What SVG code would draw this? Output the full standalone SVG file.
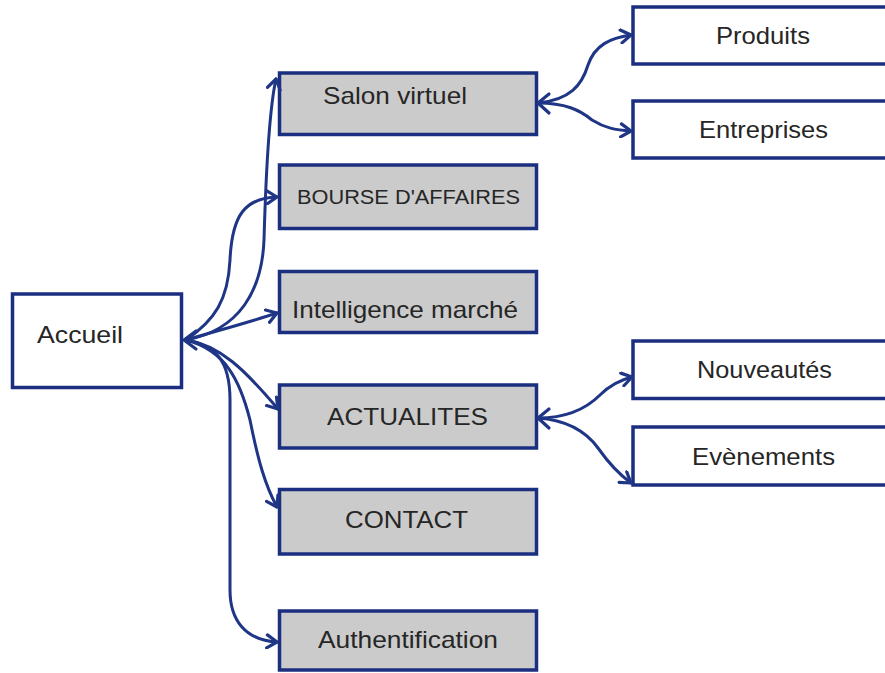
<svg xmlns="http://www.w3.org/2000/svg" width="885" height="673" viewBox="0 0 885 673">
  <style>
    .box { stroke: #1b2f80; stroke-width: 3.5; }
    .grey { fill: #cbcbcb; }
    .white { fill: #ffffff; }
    .lbl { font-family: "Liberation Sans", Arial, sans-serif; font-size: 24px; fill: #262626; }
    .small { font-size: 20px; }
    .link { fill: none; stroke: #1f3586; stroke-width: 3; stroke-linecap: round; }
    .head { fill: none; stroke: #1f3586; stroke-width: 3.2; stroke-linecap: round; stroke-linejoin: round; }
  </style>
  <defs>
    <marker id="arrow" markerUnits="userSpaceOnUse" markerWidth="16" markerHeight="16" refX="12" refY="8" orient="auto">
      <path d="M2,1.5 L12,8 L2,14.5" fill="none" stroke="#1f3586" stroke-width="3.2" stroke-linejoin="round" stroke-linecap="round"/>
    </marker>
  </defs>

  <rect width="885" height="673" fill="#ffffff"/>

  <g id="accueil">
    <rect class="box white" x="12.5" y="294" width="169" height="93.5"/>
    <text class="lbl" x="37" y="343" textLength="86" lengthAdjust="spacingAndGlyphs">Accueil</text>
  </g>

  <g id="salon-virtuel">
    <rect class="box grey" x="279.5" y="73" width="257" height="61.5"/>
    <text class="lbl" x="323" y="104" textLength="144" lengthAdjust="spacingAndGlyphs">Salon virtuel</text>
  </g>

  <g id="bourse-affaires">
    <rect class="box grey" x="279.5" y="165" width="257" height="63.5"/>
    <text class="lbl small" x="297" y="204" textLength="223" lengthAdjust="spacingAndGlyphs">BOURSE D'AFFAIRES</text>
  </g>

  <g id="intelligence-marche">
    <rect class="box grey" x="279.5" y="271.5" width="257" height="61"/>
    <text class="lbl" x="292" y="318" textLength="226" lengthAdjust="spacingAndGlyphs">Intelligence marché</text>
  </g>

  <g id="actualites">
    <rect class="box grey" x="279.5" y="385" width="257" height="63"/>
    <text class="lbl" x="327" y="425" textLength="161" lengthAdjust="spacingAndGlyphs">ACTUALITES</text>
  </g>

  <g id="contact">
    <rect class="box grey" x="279.5" y="489.5" width="257" height="64.5"/>
    <text class="lbl" x="345" y="528" textLength="123" lengthAdjust="spacingAndGlyphs">CONTACT</text>
  </g>

  <g id="authentification">
    <rect class="box grey" x="279.5" y="611" width="257" height="59"/>
    <text class="lbl" x="318" y="648" textLength="180" lengthAdjust="spacingAndGlyphs">Authentification</text>
  </g>

  <g id="produits">
    <rect class="box white" x="633" y="7" width="270" height="57"/>
    <text class="lbl" x="716" y="44" textLength="94" lengthAdjust="spacingAndGlyphs">Produits</text>
  </g>

  <g id="entreprises">
    <rect class="box white" x="633" y="101" width="270" height="57"/>
    <text class="lbl" x="699" y="138" textLength="129" lengthAdjust="spacingAndGlyphs">Entreprises</text>
  </g>

  <g id="nouveautes">
    <rect class="box white" x="633" y="341" width="270" height="57.5"/>
    <text class="lbl" x="697" y="378" textLength="135" lengthAdjust="spacingAndGlyphs">Nouveautés</text>
  </g>

  <g id="evenements">
    <rect class="box white" x="633" y="427" width="270" height="58"/>
    <text class="lbl" x="692" y="465" textLength="143" lengthAdjust="spacingAndGlyphs">Evènements</text>
  </g>

  <g id="connectors">
    <!-- fan out of Accueil -->
    <path class="link" marker-end="url(#arrow)" d="M186,340 C240,330 262,290 264,240 C266,170 269,110 276,79"/>
    <path class="link" marker-end="url(#arrow)" d="M186,340 C215,320 228,300 230,260 C232,215 245,198 277,197"/>
    <path class="link" marker-end="url(#arrow)" d="M186,340 C220,330 250,322 277,313"/>
    <path class="link" marker-end="url(#arrow)" d="M186,340 C220,345 245,370 278,409"/>
    <path class="link" marker-end="url(#arrow)" d="M186,340 C225,350 240,380 250,420 C258,460 265,485 277,507"/>
    <path class="link" marker-end="url(#arrow)" d="M186,340 C215,345 230,360 230,400 L230,590 C230,620 245,640 277,642"/>
    <path class="head" d="M196,331 L184,340 L196,349"/>

    <!-- Salon virtuel branches -->
    <path class="link" marker-end="url(#arrow)" d="M538,103 C570,100 582,85 588,65 C595,45 610,38 631,35"/>
    <path class="link" marker-end="url(#arrow)" d="M538,103 C565,103 580,110 592,120 C605,128 615,130 631,131"/>
    <path class="head" d="M549,94 L538,103 L549,113"/>

    <!-- ACTUALITES branches -->
    <path class="link" marker-end="url(#arrow)" d="M538,418 C565,418 585,410 600,395 C610,385 620,380 632,377"/>
    <path class="link" marker-end="url(#arrow)" d="M538,418 C565,420 585,430 598,448 C610,465 620,475 631,483"/>
    <path class="head" d="M549,409 L538,418 L549,428"/>
  </g>
</svg>
